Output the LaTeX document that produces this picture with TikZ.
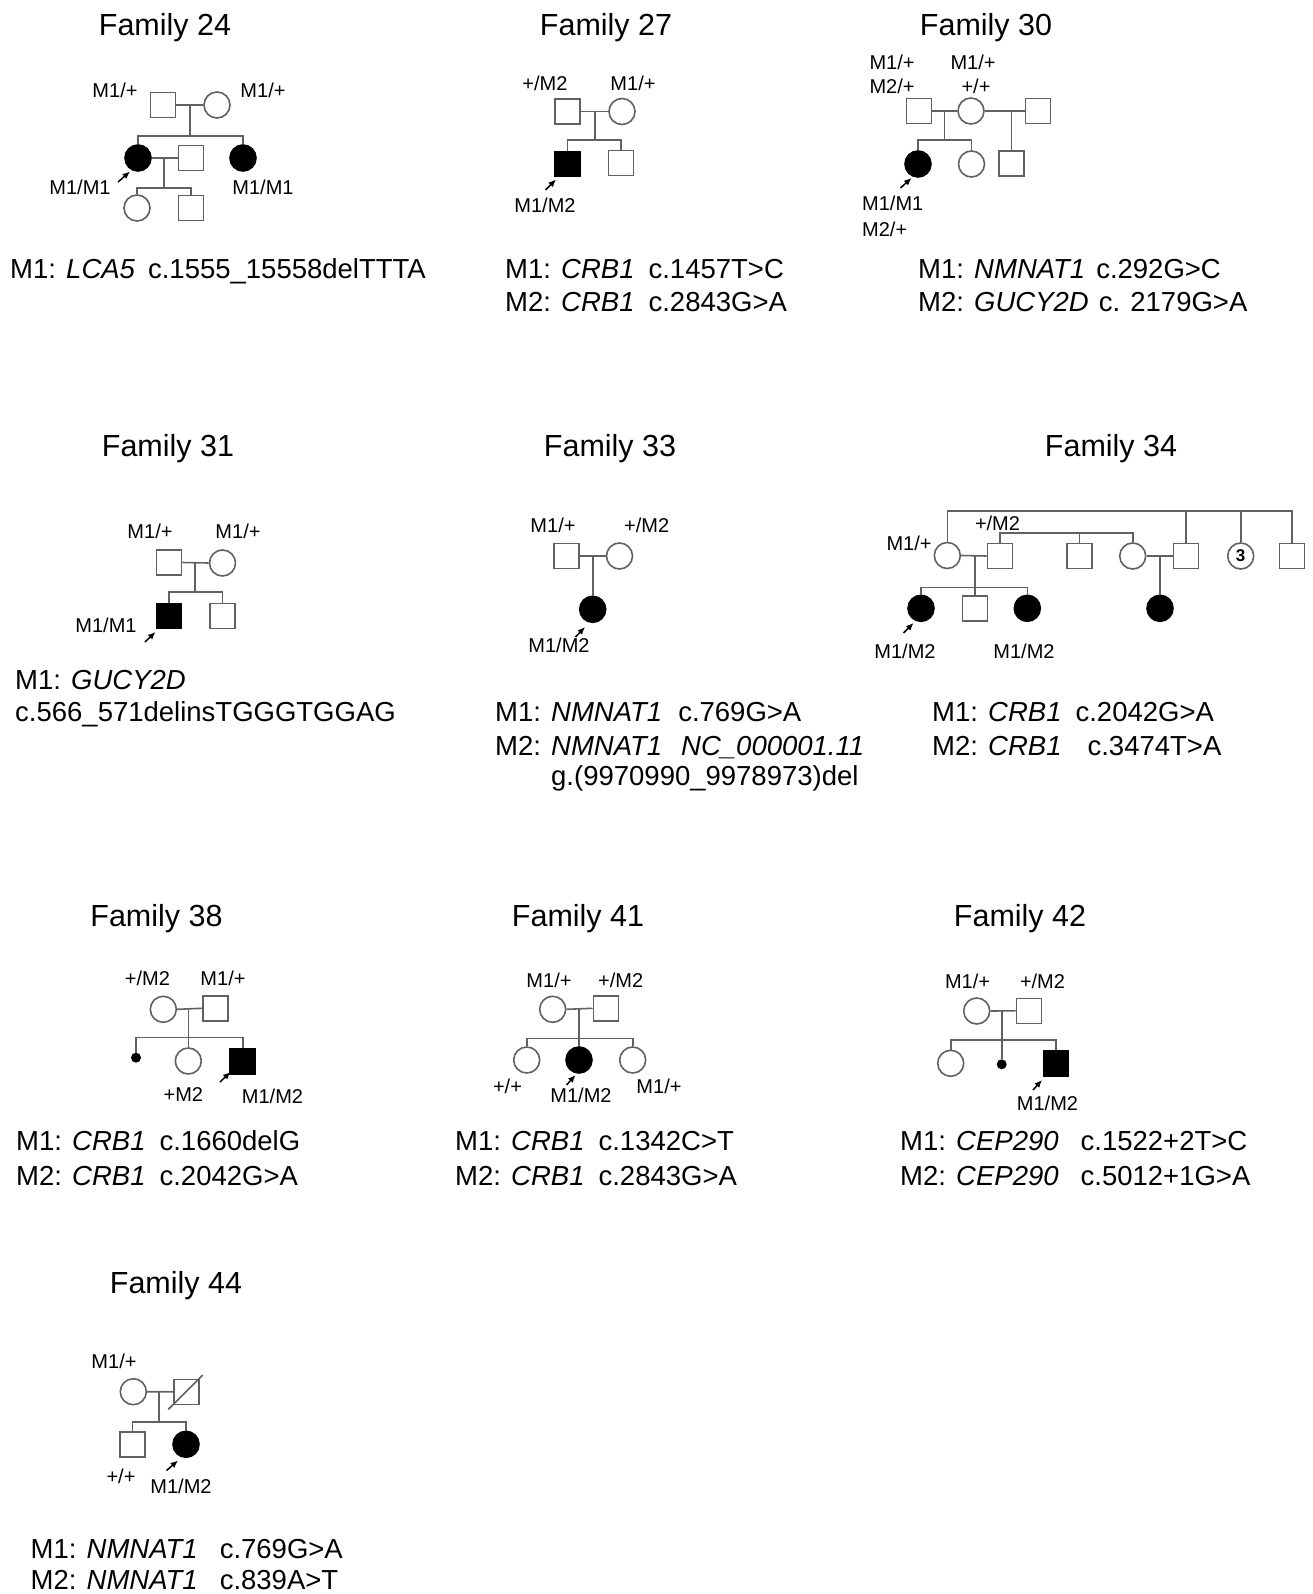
\documentclass[tikz,border=0pt]{standalone}
\usepackage{fontspec}
\setmainfont{Liberation Sans}
\usetikzlibrary{arrows.meta}
\begin{document}
\begin{tikzpicture}[x=1pt,y=-1pt,
 lnk/.style={draw=black!62, line width=1.6pt},
 male/.style={draw=black!62, line width=1.6pt, rectangle, minimum size=25pt, inner sep=0pt, fill=white},
 female/.style={draw=black!62, line width=1.6pt, circle, minimum size=26pt, inner sep=0pt, fill=white},
 aff/.style={fill=black, draw=black},
 dotp/.style={circle, fill=black, minimum size=10pt, inner sep=0pt},
 lbl/.style={font=\fontsize{20}{22}\selectfont, inner sep=0pt},
 ttl/.style={font=\fontsize{30.5}{34}\selectfont, inner sep=0pt, anchor=base},
 mut/.style={font=\fontsize{27.5}{30}\selectfont, inner sep=0pt, anchor=base west},
 prb/.style={-{Latex[length=7.5pt,width=6.5pt]}, line width=1.5pt, black}]
\useasboundingbox[fill=white] (0,0) rectangle (1312,1594);

% ================= Family 24
\node[ttl] (t24) at (165,35.3) {Family 24};
\node[male] (a24) at (163,105) {};
\node[female] (b24) at (217,105) {};
\coordinate (m24) at (190,105);
\coordinate (s24) at (190,136);
\node[female,aff] (c24) at (138,158) {};
\node[male] (d24) at (191,158) {};
\node[female,aff] (e24) at (243,158) {};
\coordinate (m24b) at (164,158);
\coordinate (s24b) at (164,188);
\node[female] (f24) at (137,208) {};
\node[male] (g24) at (191,208) {};
\draw[lnk] (a24.east) -- (b24.west);
\draw[lnk] (m24) -- (s24);
\draw[lnk] (s24) -| (c24.north);
\draw[lnk] (s24) -| (e24.north);
\draw[lnk] (c24.east) -- (d24.west);
\draw[lnk] (m24b) -- (s24b);
\draw[lnk] (s24b) -| (f24.north);
\draw[lnk] (s24b) -| (g24.north);
\node[lbl] (l24a) at (115,90) {M1/+};
\node[lbl] (l24b) at (263,90) {M1/+};
\node[lbl] (l24c) at (80,187) {M1/M1};
\node[lbl] (l24d) at (263,187) {M1/M1};
\coordinate (p24a) at (118,182); \coordinate (p24b) at (130,171.5);
\draw[prb] (p24a) -- (p24b);
\node[mut] (x24a) at (10,279) {M1: \textit{LCA5}\hspace{13pt}c.1555\_15558delTTTA};

% ================= Family 27
\node[ttl] (t27) at (606,35.3) {Family 27};
\node[male] (a27) at (567.5,111.5) {};
\node[female] (b27) at (622,111.5) {};
\coordinate (m27) at (595,111.5);
\coordinate (s27) at (595,140);
\node[male,aff] (c27) at (567.5,164) {};
\node[male] (d27) at (621,163) {};
\draw[lnk] (a27.east) -- (b27.west);
\draw[lnk] (m27) -- (s27);
\draw[lnk] (s27) -| (c27.north);
\draw[lnk] (s27) -| (d27.north);
\node[lbl] (l27a) at (545,83) {+/M2};
\node[lbl] (l27b) at (633,83) {M1/+};
\node[lbl] (l27c) at (545,205) {M1/M2};
\coordinate (p27a) at (545.5,190); \coordinate (p27b) at (556,179.5);
\draw[prb] (p27a) -- (p27b);
\node[mut] (x27a) at (505,279) {M1: \textit{CRB1}\hspace{14pt}c.1457T>C};
\node[mut] (x27b) at (505,312) {M2: \textit{CRB1}\hspace{14pt}c.2843G>A};

% ================= Family 30
\node[ttl] (t30) at (986,35.3) {Family 30};
\node[male] (a30) at (919,111) {};
\node[female] (b30) at (971,111) {};
\node[male] (c30) at (1038,111) {};
\coordinate (m30) at (944.5,111);
\coordinate (s30) at (944.5,140);
\node[female,aff] (d30) at (918,164) {};
\node[female] (e30) at (971.5,164) {};
\coordinate (m30b) at (1011.5,111);
\node[male] (f30) at (1011.5,163.5) {};
\draw[lnk] (a30.east) -- (b30.west);
\draw[lnk] (b30.east) -- (c30.west);
\draw[lnk] (m30) -- (s30);
\draw[lnk] (s30) -| (d30.north);
\draw[lnk] (s30) -| (e30.north);
\draw[lnk] (m30b) -- (f30.north);
\node[lbl] (l30a) at (892,62.5) {M1/+};
\node[lbl] (l30b) at (892,86.5) {M2/+};
\node[lbl] (l30c) at (973,62.5) {M1/+};
\node[lbl] (l30d) at (976,86.5) {+/+};
\node[lbl,anchor=west] (l30e) at (862,203) {M1/M1};
\node[lbl,anchor=west] (l30f) at (862,229) {M2/+};
\coordinate (p30a) at (900.5,188); \coordinate (p30b) at (911.5,178);
\draw[prb] (p30a) -- (p30b);
\node[mut] (x30a) at (918,279) {M1: \textit{NMNAT1}\hspace{11pt}c.292G>C};
\node[mut] (x30b) at (918,312) {M2: \textit{GUCY2D}\hspace{10pt}c. 2179G>A};

% ================= Family 31
\node[ttl] (t31) at (168,456) {Family 31};
\node[male] (a31) at (169,562.5) {};
\node[female] (b31) at (222.5,563) {};
\coordinate (m31) at (195,563);
\coordinate (s31) at (195,592);
\node[male,aff] (c31) at (169,616) {};
\node[male] (d31) at (222.5,616) {};
\draw[lnk] (a31.east) -- (b31.west);
\draw[lnk] (m31) -- (s31);
\draw[lnk] (s31) -| (c31.north);
\draw[lnk] (s31) -| (d31.north);
\node[lbl] (l31a) at (150,531.5) {M1/+};
\node[lbl] (l31b) at (238,531.5) {M1/+};
\node[lbl] (l31c) at (106,625) {M1/M1};
\coordinate (p31a) at (145,642); \coordinate (p31b) at (155.5,632);
\draw[prb] (p31a) -- (p31b);
\node[mut] (x31a) at (15,689) {M1: \textit{GUCY2D}};
\node[mut] (x31b) at (15,721) {c.566\_571delinsTGGGTGGAG};

% ================= Family 33
\node[ttl] (t33) at (610,456) {Family 33};
\node[male] (a33) at (566.5,556) {};
\node[female] (b33) at (619.5,556) {};
\coordinate (m33) at (592.7,556);
\node[female,aff] (c33) at (592.7,609.3) {};
\draw[lnk] (a33.east) -- (b33.west);
\draw[lnk] (m33) -- (c33.north);
\node[lbl] (l33a) at (553,525) {M1/+};
\node[lbl] (l33b) at (646.7,525) {+/M2};
\node[lbl] (l33c) at (559,645) {M1/M2};
\coordinate (p33a) at (575.5,637); \coordinate (p33b) at (585,627);
\draw[prb] (p33a) -- (p33b);
\node[mut] (x33a) at (495,721.5) {M1: \textit{NMNAT1}\hspace{16pt}c.769G>A};
\node[mut] (x33b) at (495,755) {M2: \textit{NMNAT1}\hspace{19pt}\textit{NC\_000001.11}};
\node[mut] (x33c) at (551,785) {g.(9970990\_9978973)del};

% ================= Family 34
\node[ttl] (t34) at (1111,456) {Family 34};
\node[female] (a34) at (947.3,555.5) {};
\node[male] (b34) at (1000,556) {};
\node[male] (c34) at (1079.3,556) {};
\node[female] (d34) at (1132.7,556) {};
\node[male] (e34) at (1185.8,556) {};
\node[female, font=\bfseries\fontsize{17}{17}\selectfont] (f34) at (1240.7,556) {3};
\node[male] (g34) at (1292,556) {};
\coordinate (top34) at (1120,511);
\coordinate (top34b) at (1060,532.7);
\draw[lnk] (a34.north) |- (top34) -| (g34.north);
\draw[lnk] (top34) -| (e34.north);
\draw[lnk] (top34) -| (f34.north);
\draw[lnk] (b34.north) |- (top34b) -| (d34.north);
\draw[lnk] (top34b) -| (c34.north);
\coordinate (m34) at (975,555.5);
\coordinate (s34) at (975,587.3);
\node[female,aff] (h34) at (921,608.3) {};
\node[male] (i34) at (975,608.3) {};
\node[female,aff] (j34) at (1027.3,608.3) {};
\draw[lnk] (a34.east) -- (b34.west);
\draw[lnk] (m34) -- (s34);
\draw[lnk] (s34) -| (h34.north);
\draw[lnk] (s34) -- (i34.north);
\draw[lnk] (s34) -| (j34.north);
\coordinate (m34b) at (1160,556);
\node[female,aff] (k34) at (1160,608.3) {};
\draw[lnk] (d34.east) -- (e34.west);
\draw[lnk] (m34b) -- (k34.north);
\node[lbl] (l34a) at (909,543.3) {M1/+};
\node[lbl] (l34b) at (997.5,523.3) {+/M2};
\node[lbl] (l34c) at (905,651.7) {M1/M2};
\node[lbl] (l34d) at (1024,651.7) {M1/M2};
\coordinate (p34a) at (903.5,633); \coordinate (p34b) at (913.5,623);
\draw[prb] (p34a) -- (p34b);
\node[mut] (x34a) at (932,721.5) {M1: \textit{CRB1}\hspace{14pt}c.2042G>A};
\node[mut] (x34b) at (932,755) {M2: \textit{CRB1}\hspace{26pt}c.3474T>A};

% ================= Family 38
\node[ttl] (t38) at (156.5,926.6) {Family 38};
\node[female] (a38) at (163.3,1009.3) {};
\node[male] (b38) at (215.5,1008.3) {};
\coordinate (m38) at (188.3,1009);
\coordinate (s38) at (188.3,1037.3);
\node[dotp] (c38) at (136,1057.7) {};
\node[female] (d38) at (188.3,1061) {};
\node[male,aff] (e38) at (242.7,1061.7) {};
\draw[lnk] (a38.east) -- (b38.west);
\draw[lnk] (m38) -- (s38);
\draw[lnk] (s38) -| (c38.north);
\draw[lnk] (s38) -- (d38.north);
\draw[lnk] (s38) -| (e38.north);
\node[lbl] (l38a) at (147.5,978.3) {+/M2};
\node[lbl] (l38b) at (223,978.3) {M1/+};
\node[lbl] (l38c) at (183.3,1095) {+M2};
\node[lbl] (l38d) at (272.5,1096.7) {M1/M2};
\coordinate (p38a) at (220,1082); \coordinate (p38b) at (230.5,1072);
\draw[prb] (p38a) -- (p38b);
\node[mut] (x38a) at (16,1150) {M1: \textit{CRB1}\hspace{14pt}c.1660delG};
\node[mut] (x38b) at (16,1185) {M2: \textit{CRB1}\hspace{14pt}c.2042G>A};

% ================= Family 41
\node[ttl] (t41) at (578,926.6) {Family 41};
\node[female] (a41) at (552.7,1009.3) {};
\node[male] (b41) at (605.8,1008.3) {};
\coordinate (m41) at (579,1009);
\coordinate (s41) at (579,1038.3);
\node[female] (c41) at (526.7,1060) {};
\node[female,aff] (d41) at (579,1060) {};
\node[female] (e41) at (632.7,1060) {};
\draw[lnk] (a41.east) -- (b41.west);
\draw[lnk] (m41) -- (s41);
\draw[lnk] (s41) -| (c41.north);
\draw[lnk] (s41) -- (d41.north);
\draw[lnk] (s41) -| (e41.north);
\node[lbl] (l41a) at (549,980) {M1/+};
\node[lbl] (l41b) at (620.7,980) {+/M2};
\node[lbl] (l41c) at (507.5,1086.7) {+/+};
\node[lbl] (l41d) at (581,1095) {M1/M2};
\node[lbl] (l41e) at (659,1086.7) {M1/+};
\coordinate (p41a) at (566.5,1085); \coordinate (p41b) at (575.5,1075);
\draw[prb] (p41a) -- (p41b);
\node[mut] (x41a) at (455,1150) {M1: \textit{CRB1}\hspace{14pt}c.1342C>T};
\node[mut] (x41b) at (455,1185) {M2: \textit{CRB1}\hspace{14pt}c.2843G>A};

% ================= Family 42
\node[ttl] (t42) at (1020,926.6) {Family 42};
\node[female] (a42) at (976.7,1011) {};
\node[male] (b42) at (1029,1010.8) {};
\coordinate (m42) at (1001.7,1011);
\coordinate (s42) at (1001.7,1040);
\node[female] (c42) at (950.7,1063.3) {};
\node[dotp] (d42) at (1001.7,1064.3) {};
\node[male,aff] (e42) at (1056,1063.3) {};
\draw[lnk] (a42.east) -- (b42.west);
\draw[lnk] (m42) -- (d42.north);
\draw[lnk] (s42) -| (c42.north);
\draw[lnk] (s42) -| (e42.north);
\node[lbl] (l42a) at (967.5,981.7) {M1/+};
\node[lbl] (l42b) at (1042.5,981.7) {+/M2};
\node[lbl] (l42c) at (1047.5,1103.3) {M1/M2};
\coordinate (p42a) at (1033,1090); \coordinate (p42b) at (1042,1080);
\draw[prb] (p42a) -- (p42b);
\node[mut] (x42a) at (900,1150) {M1: \textit{CEP290}\hspace{22pt}c.1522+2T>C};
\node[mut] (x42b) at (900,1185) {M2: \textit{CEP290}\hspace{22pt}c.5012+1G>A};

% ================= Family 44
\node[ttl] (t44) at (176,1293.5) {Family 44};
\node[female] (a44) at (133.3,1391.7) {};
\node[male] (b44) at (186.2,1391.8) {};
\coordinate (sl44a) at (168.3,1409.3); \coordinate (sl44b) at (202.7,1375);
\draw[lnk] (sl44a) -- (sl44b);
\coordinate (m44) at (159,1391.7);
\coordinate (s44) at (159,1421.7);
\node[male] (c44) at (132.3,1444.2) {};
\node[female,aff] (d44) at (186,1444.3) {};
\draw[lnk] (a44.east) -- (b44.west);
\draw[lnk] (m44) -- (s44);
\draw[lnk] (s44) -| (c44.north);
\draw[lnk] (s44) -| (d44.north);
\node[lbl] (l44a) at (114,1361.7) {M1/+};
\node[lbl] (l44b) at (121,1476) {+/+};
\node[lbl] (l44c) at (181,1486.7) {M1/M2};
\coordinate (p44a) at (166.5,1470.5); \coordinate (p44b) at (178,1460.5);
\draw[prb] (p44a) -- (p44b);
\node[mut] (x44a) at (30.5,1558) {M1: \textit{NMNAT1}\hspace{22pt}c.769G>A};
\node[mut] (x44b) at (30.5,1589) {M2: \textit{NMNAT1}\hspace{22pt}c.839A>T};
\end{tikzpicture}
\end{document}
